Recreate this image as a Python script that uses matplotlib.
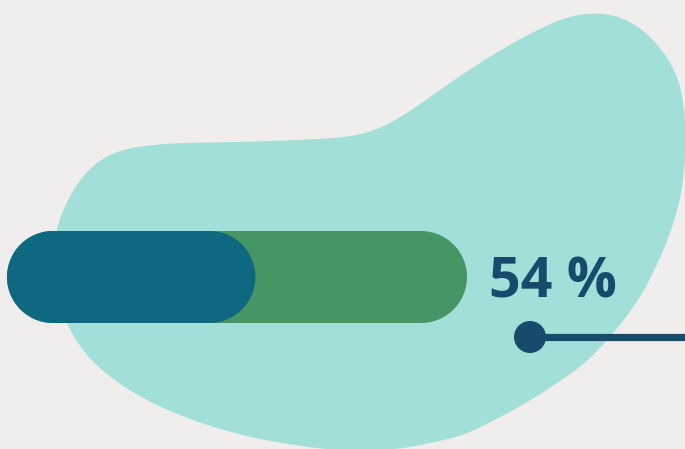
import numpy as np
import matplotlib
matplotlib.use("Agg")
import matplotlib.pyplot as plt
from matplotlib.patches import Circle, Polygon

# data
value = 54
total = 100
label = f"{value} %"

W, H = 685, 449
fig = plt.figure(figsize=(W / 100, H / 100), dpi=100)
fig.patch.set_facecolor("#f0eeec")
ax = fig.add_axes([0, 0, 1, 1])
ax.set_xlim(0, W)
ax.set_ylim(H, 0)
ax.axis("off")

# decorative blob outline (traced), smoothed
blob = np.array([
    (593, 12), (617, 14), (640, 26), (662, 48), (679, 76), (685, 110),
    (686, 150), (684, 177), (679, 207), (669, 237), (655, 270), (639, 300),
    (622, 323), (609, 338), (589, 361), (549, 389), (514, 410), (464, 436),
    (397, 450), (340, 451), (307, 447), (257, 439), (205, 425), (155, 405),
    (120, 385), (87, 358), (65, 323), (56, 290), (53, 260), (55, 230),
    (60, 215), (70, 195), (82, 175), (100, 158), (123, 148), (173, 143),
    (240, 142), (300, 140), (340, 138), (367, 134), (385, 127), (415, 108),
    (448, 84), (481, 62), (514, 42), (547, 25), (570, 15),
], dtype=float)
closed = np.vstack([blob, blob[:1]])
seg = np.hypot(*np.diff(closed, axis=0).T)
s = np.concatenate([[0], np.cumsum(seg)])
ss = np.arange(0, s[-1], 1.0)
xs = np.interp(ss, s, closed[:, 0])
ys = np.interp(ss, s, closed[:, 1])
sigma = 16.0
k = np.arange(-int(4 * sigma), int(4 * sigma) + 1)
g = np.exp(-0.5 * (k / sigma) ** 2)
g /= g.sum()
pad = len(k) // 2
xs_s = np.convolve(np.concatenate([xs[-pad:], xs, xs[:pad]]), g, mode="valid")
ys_s = np.convolve(np.concatenate([ys[-pad:], ys, ys[:pad]]), g, mode="valid")
ax.add_patch(Polygon(np.column_stack([xs_s, ys_s]), closed=True,
                     facecolor="#a2dfd8", edgecolor="none", zorder=1))


def pill(x, y, w, h):
    r = h / 2
    a = np.linspace(np.pi / 2, 3 * np.pi / 2, 60)
    left = np.column_stack([x + r + r * np.cos(a), y + r - r * np.sin(a)])
    b = np.linspace(-np.pi / 2, np.pi / 2, 60)
    right = np.column_stack([x + w - r + r * np.cos(b), y + r - r * np.sin(b)])
    return np.vstack([left, right])


# progress bar
bar_x, bar_y, bar_w, bar_h = 7, 231, 460, 92
ax.add_patch(Polygon(pill(bar_x, bar_y, bar_w, bar_h), closed=True,
                     facecolor="#459664", edgecolor="none", zorder=2))
ax.add_patch(Polygon(pill(bar_x, bar_y, bar_w * value / total, bar_h), closed=True,
                     facecolor="#0e6880", edgecolor="none", zorder=3))

# label
ax.text(489, 298, label, fontsize=40, fontweight="bold", family=["Open Sans", "DejaVu Sans"],
        color="#174a6b", ha="left", va="baseline", zorder=4)

# pointer
ax.plot([530, W + 5], [337, 337], color="#174a6b", lw=5.2, solid_capstyle="butt", zorder=4)
ax.add_patch(Circle((530, 337), 16, facecolor="#174a6b", edgecolor="none", zorder=5))

fig.savefig("out.png", dpi=100, facecolor=fig.get_facecolor())
